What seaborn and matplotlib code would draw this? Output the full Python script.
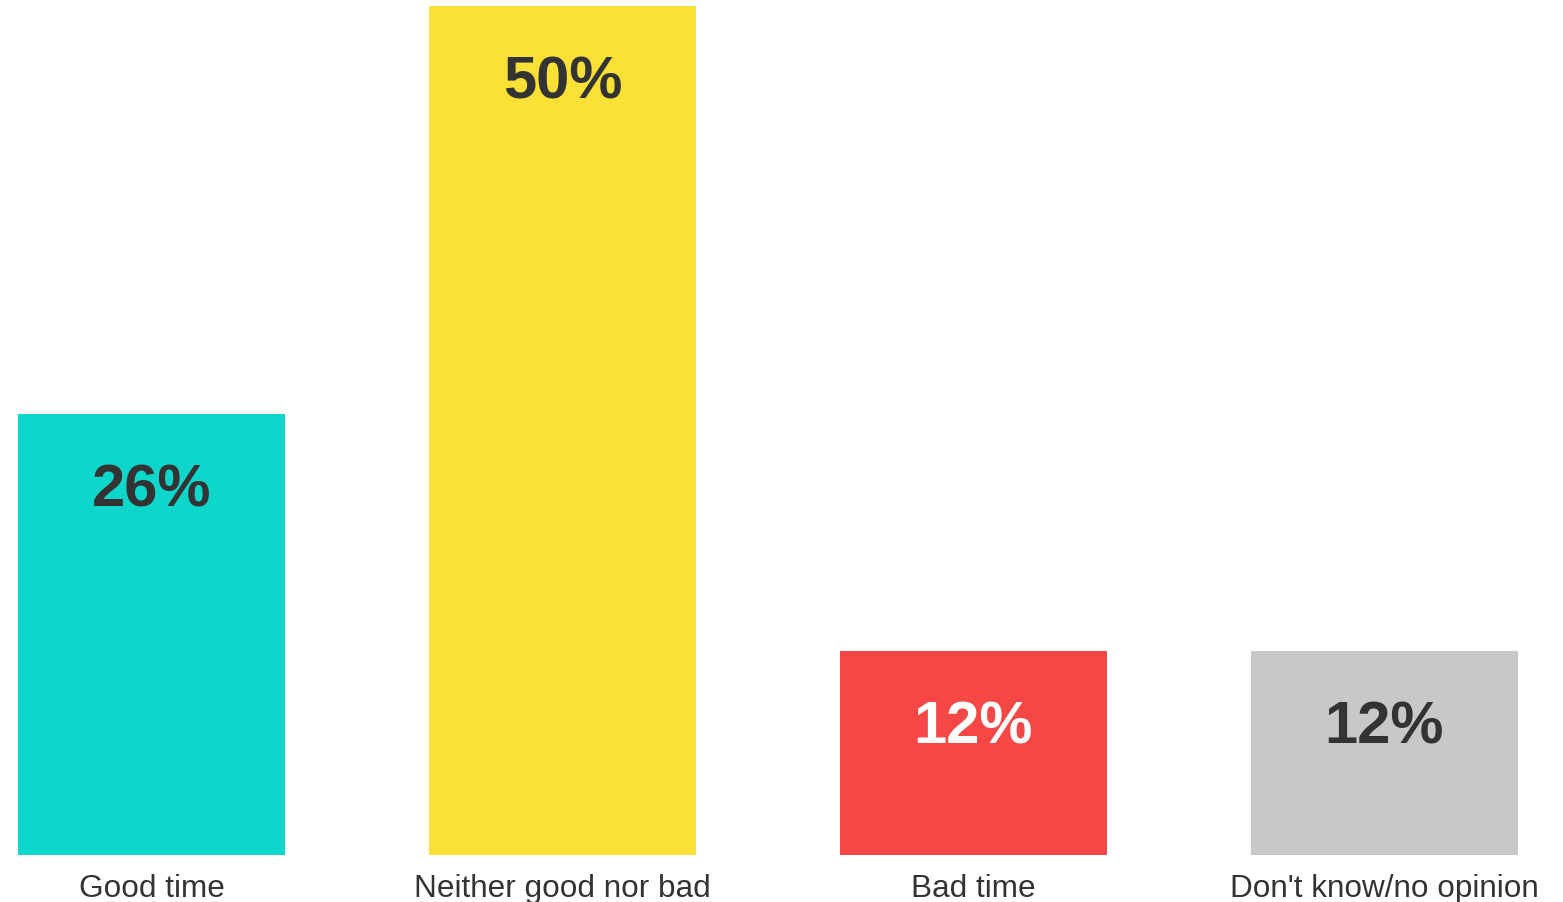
import matplotlib
matplotlib.use("Agg")
import matplotlib.pyplot as plt
import seaborn as sns
import pandas as pd

categories = ["Good time", "Neither good nor bad", "Bad time", "Don't know/no opinion"]
values = [26, 50, 12, 12]
labels = ["26%", "50%", "12%", "12%"]
colors = ["#0fd6cb", "#fbe035", "#f54745", "#c8c8c8"]
label_colors = ["#333333", "#333333", "#ffffff", "#333333"]

sns.set_theme(style="white")
plt.rcParams["font.family"] = ["Liberation Sans", "DejaVu Sans"]

df = pd.DataFrame({"category": categories, "value": values})

fig = plt.figure(figsize=(15.63, 9.02), dpi=100)
ax = fig.add_axes([18 / 1563, 47 / 902, 1500 / 1563, 849 / 902])
sns.barplot(data=df, x="category", y="value", hue="category", palette=colors,
            width=0.65, saturation=1, legend=False, ax=ax, order=categories,
            linewidth=0, edgecolor="none")

ax.set_xlim(-0.325, 3.325)
ax.set_ylim(0, 50)
ax.set_xlabel("")
ax.set_ylabel("")
ax.set_yticks([])
for s in ax.spines.values():
    s.set_visible(False)
ax.tick_params(axis="x", length=0, pad=14, labelsize=22.7, labelcolor="#333333")

for i, (v, lab, c) in enumerate(zip(values, labels, label_colors)):
    ax.annotate(lab, xy=(i, v), xytext=(0, -77), textcoords="offset pixels",
                ha="center", va="center", fontsize=43, fontweight="bold", color=c)

fig.savefig("out.png", dpi=100)
